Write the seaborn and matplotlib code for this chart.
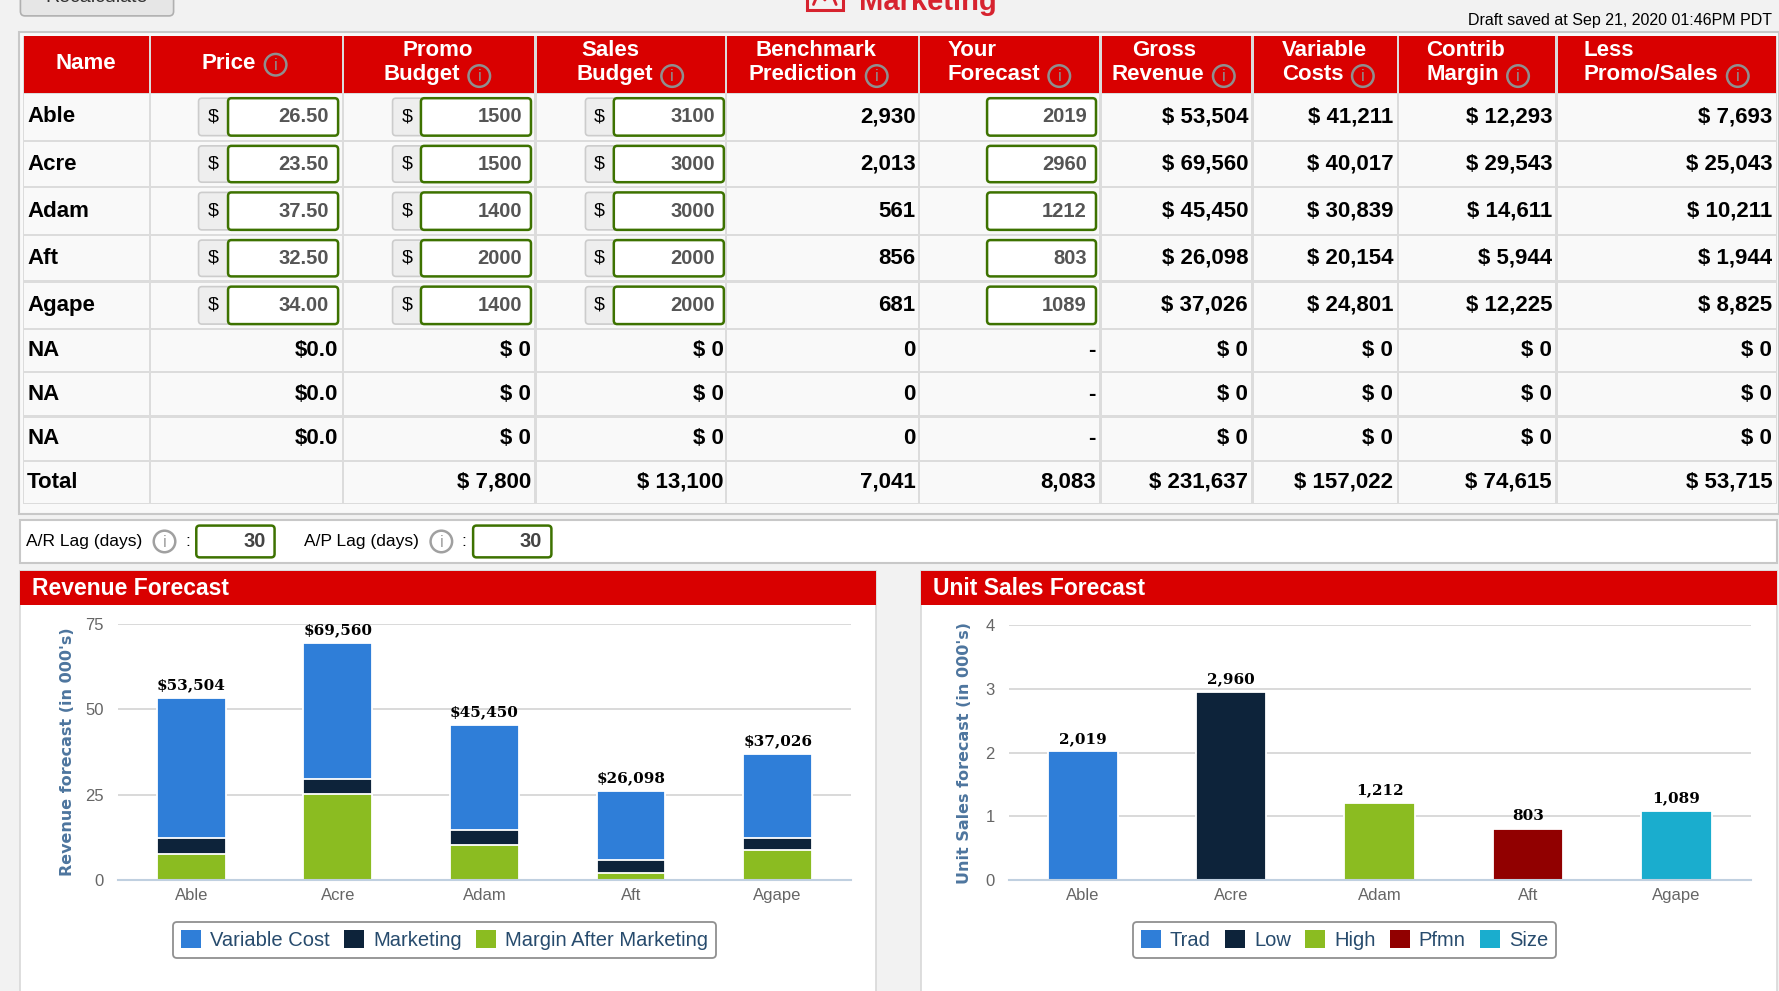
# Tratamiento de datos
import numpy as np
import pandas as pd

# Visualización
import seaborn as sns
import matplotlib.pyplot as plt
from matplotlib.patches import Rectangle, FancyBboxPatch, Circle, Patch

# ------------------------------DATOS------------------------------
names = ["Able", "Acre", "Adam", "Aft", "Agape"]
price = [26.50, 23.50, 37.50, 32.50, 34.00]
promo_budget = [1500, 1500, 1400, 2000, 1400]
sales_budget = [3100, 3000, 3000, 2000, 2000]
benchmark = [2930, 2013, 561, 856, 681]
forecast = [2019, 2960, 1212, 803, 1089]
gross_revenue = [53504, 69560, 45450, 26098, 37026]
variable_costs = [41211, 40017, 30839, 20154, 24801]
contrib_margin = [12293, 29543, 14611, 5944, 12225]
less_promo_sales = [7693, 25043, 10211, 1944, 8825]
n_empty_rows = 3
# promo, sales, benchmark, forecast, gross, variable, contrib, less promo
totals = [7800, 13100, 7041, 8083, 231637, 157022, 74615, 53715]
ar_lag = 30
ap_lag = 30

rev_series = ["Variable Cost", "Marketing", "Margin After Marketing"]
rev_colors = ["#2f7ed8", "#0d233a", "#8bbc21"]
segments = ["Trad", "Low", "High", "Pfmn", "Size"]
seg_colors = ["#2f7ed8", "#0d233a", "#8bbc21", "#910000", "#1aadce"]

# ------------------------------LIENZO------------------------------
W, H = 1568, 873  # coordenadas de pantalla, escaladas a 1779x991
RED = "#d90000"

sns.set_style("white")
plt.rcParams["font.family"] = ["Liberation Sans", "DejaVu Sans"]

fig = plt.figure(figsize=(17.79, 9.91), dpi=100)
fig.patch.set_facecolor("#f2f2f2")
ax0 = fig.add_axes([0, 0, 1, 1])
ax0.set_xlim(0, W)
ax0.set_ylim(H, 0)
ax0.axis("off")
renderer = fig.canvas.get_renderer()


def rect(x0, y0, x1, y1, fc, ec="none", lw=1.0, r=None, z=1):
    if r:
        p = FancyBboxPatch((x0, y0), x1 - x0, y1 - y0,
                           boxstyle=f"round,pad=0,rounding_size={r}",
                           fc=fc, ec=ec, lw=lw, zorder=z)
    else:
        p = Rectangle((x0, y0), x1 - x0, y1 - y0, fc=fc, ec=ec, lw=lw, zorder=z)
    ax0.add_patch(p)


def txt(x, y, s, ha="left", size=16, weight="bold", color="black", va="center", **kw):
    return ax0.text(x, y, s, ha=ha, va=va, fontsize=size, fontweight=weight,
                    color=color, zorder=5, **kw)


def info_icon(x, y, color="#8f8f8f"):
    ax0.add_patch(Circle((x, y), 9.5, fill=False, ec=color, lw=1.8, zorder=5))
    txt(x, y + 0.5, "i", ha="center", size=12, weight="normal", color=color)


def right_edge(t):
    bb = t.get_window_extent(renderer)
    return ax0.transData.inverted().transform((bb.x1, bb.y0))[0]


def input_box(x0, x1, y0, y1, value, addon=None):
    if addon is not None:
        rect(addon, y0, x0 + 4, y1, fc="#eeeeee", ec="#cccccc", lw=1.2, r=3, z=2)
        txt((addon + x0) / 2, (y0 + y1) / 2, "$", ha="center", size=14, weight="normal")
    rect(x0, y0, x1, y1, fc="white", ec="#3d7200", lw=1.8, r=3, z=3)
    txt(x1 - 8, (y0 + y1) / 2, value, ha="right", size=14.5, color="#555555")


# ------------------------------CABECERA DE PÁGINA------------------------------
rect(18, -20, 153, 14, fc="#e6e6e6", ec="#b0b0b0", lw=1.2, r=4)
txt(85, -2, "Recalculate", ha="center", size=14, weight="normal", color="#333333")
rect(711, -20, 743, 9, fc="none", ec="#d7232f", lw=2.2)
ax0.plot([717, 722, 727, 732, 737], [4, -8, 0, -8, 4], color="#d7232f", lw=2, zorder=5)
txt(757, 8.5, "Marketing", size=21, color="#d7232f", va="baseline")
txt(1562, 18, "Draft saved at Sep 21, 2020 01:46PM PDT", ha="right", size=11.5, weight="normal")

# ------------------------------TABLA------------------------------
col_edges = [20, 132, 302, 472, 640, 810, 970, 1104, 1232, 1372, 1566]
row_edges = [82, 124, 165, 207, 248, 290, 328, 367, 406, 444]

rect(17, 28, 1568, 453, fc="#f9f9f9", ec="#c8c8c8", lw=1.5)
rect(20, 32, 1566, 444, fc="#dcdcdc")
for i in range(len(col_edges) - 1):
    rect(col_edges[i] + 1, 32, col_edges[i + 1] - 1, 81.5, fc=RED)
    for j in range(len(row_edges) - 1):
        rect(col_edges[i] + 1, row_edges[j] + 1, col_edges[i + 1] - 1, row_edges[j + 1] - 1,
             fc="#f9f9f9")

# encabezados: (línea 1, x1, línea 2, x2)
headers = [("Price", 178, None, None), ("Promo", 355, "Budget", 338),
           ("Sales", 512, "Budget", 508), ("Benchmark", 666, "Prediction", 660),
           ("Your", 835, "Forecast", 835), ("Gross", 998, "Revenue", 980),
           ("Variable", 1130, "Costs", 1130), ("Contrib", 1257, "Margin", 1257),
           ("Less", 1396, "Promo/Sales", 1396)]
txt(76, 56, "Name", ha="center", color="white")
for l1, x1, l2, x2 in headers:
    if l2 is None:
        t = txt(x1, 56, l1, color="white")
        info_icon(right_edge(t) + 17, 57)
    else:
        txt(x1, 44.5, l1, color="white")
        t = txt(x2, 65.5, l2, color="white")
        info_icon(right_edge(t) + 17, 67)

# filas de productos
for j, name in enumerate(names):
    y0, y1 = row_edges[j], row_edges[j + 1]
    yc = (y0 + y1) / 2
    txt(24, yc, name)
    input_box(201, 298, y0 + 4.5, y1 - 4.5, f"{price[j]:.2f}", addon=175)
    input_box(371, 468, y0 + 4.5, y1 - 4.5, f"{promo_budget[j]}", addon=346)
    input_box(541, 638, y0 + 4.5, y1 - 4.5, f"{sales_budget[j]}", addon=516)
    txt(807, yc, f"{benchmark[j]:,}", ha="right")
    input_box(870, 966, y0 + 4.5, y1 - 4.5, f"{forecast[j]}")
    txt(1100, yc, f"$ {gross_revenue[j]:,}", ha="right")
    txt(1228, yc, f"$ {variable_costs[j]:,}", ha="right")
    txt(1368, yc, f"$ {contrib_margin[j]:,}", ha="right")
    txt(1562, yc, f"$ {less_promo_sales[j]:,}", ha="right")

# filas vacías
for k in range(n_empty_rows):
    j = len(names) + k
    yc = (row_edges[j] + row_edges[j + 1]) / 2
    txt(24, yc, "NA")
    txt(298, yc, "$0.0", ha="right")
    for xr in [468, 638]:
        txt(xr, yc, "$ 0", ha="right")
    txt(807, yc, "0", ha="right")
    txt(966, yc, "-", ha="right")
    for xr in [1100, 1228, 1368, 1562]:
        txt(xr, yc, "$ 0", ha="right")

# fila de totales
yc = (row_edges[-2] + row_edges[-1]) / 2
txt(24, yc, "Total")
tot_x = [468, 638, 807, 966, 1100, 1228, 1368, 1562]
tot_fmt = ["$ {:,}", "$ {:,}", "{:,}", "{:,}", "$ {:,}", "$ {:,}", "$ {:,}", "$ {:,}"]
for xr, f, v in zip(tot_x, tot_fmt, totals):
    txt(xr, yc, f.format(v), ha="right")

# ------------------------------LAG------------------------------
rect(18, 458, 1566, 496, fc="white", ec="#c8c8c8", lw=1.5)
for lbl, x_lbl, x_ic, x_col, (bx0, bx1), val in [("A/R Lag (days)", 23, 145, 163, (173, 242), ar_lag),
                                                ("A/P Lag (days)", 268, 389, 407, (417, 486), ap_lag)]:
    txt(x_lbl, 477, lbl, size=12.5, weight="normal")
    info_icon(x_ic, 477, color="#a0a0a0")
    txt(x_col, 477, ":", size=12.5, weight="normal")
    rect(bx0, 463, bx1, 491, fc="white", ec="#3d7200", lw=1.8, r=3, z=3)
    txt(bx1 - 8, 477, str(val), ha="right", size=14.5, color="#444444")

# ------------------------------PANELES------------------------------
for px0, px1, title in [(18, 772, "Revenue Forecast"), (812, 1566, "Unit Sales Forecast")]:
    rect(px0, 503, px1, 880, fc="white", ec="#d8d8d8", lw=1.2)
    rect(px0, 503, px1, 533, fc=RED)
    txt(px0 + 10, 518.5, title, size=16.5, color="white")


def style_axis(ax, yticks, ylabel, label_x):
    ax.set_facecolor("none")
    ax.set_xlim(-0.5, 4.5)
    ax.set_ylim(yticks[0], yticks[-1])
    ax.set_yticks(yticks)
    ax.set_axisbelow(True)
    ax.yaxis.grid(True, color="#d3d3d3", lw=1.2)
    ax.xaxis.grid(False)
    for s in ["top", "left", "right"]:
        ax.spines[s].set_visible(False)
    ax.spines["bottom"].set_color("#c0d0e0")
    ax.spines["bottom"].set_linewidth(1.5)
    ax.set_xticks(np.arange(-0.5, 5, 1), minor=True)
    ax.tick_params(axis="x", which="minor", length=8, width=1.2, color="#c0d0e0", direction="out")
    ax.tick_params(axis="x", which="major", length=0, pad=6, labelsize=12, labelcolor="#666666")
    ax.tick_params(axis="y", length=0, pad=10, labelsize=12, labelcolor="#666666")
    ax.set_xlabel("")
    ax.set_ylabel(ylabel, fontsize=11.5, fontweight="bold", color="#4d759e", family="DejaVu Sans")
    ax.yaxis.set_label_coords(label_x, 0.5)


# ---- Revenue Forecast (barras apiladas) ----
rev = pd.DataFrame({
    "Name": names,
    "Variable Cost": np.array(variable_costs) / 1000,
    "Marketing": (np.array(promo_budget) + np.array(sales_budget)) / 1000,
    "Margin After Marketing": np.array(less_promo_sales) / 1000,
})
rev["green"] = rev["Margin After Marketing"]
rev["navy"] = rev["green"] + rev["Marketing"]
rev["blue"] = rev["navy"] + rev["Variable Cost"]

ax1 = fig.add_axes([104 / W, 1 - 775 / H, (750 - 104) / W, (775 - 550) / H])
for col, c in zip(["blue", "navy", "green"], rev_colors):
    sns.barplot(data=rev, x="Name", y=col, color=c, saturation=1, width=0.47,
                edgecolor="white", linewidth=1.3, ax=ax1, zorder=2)
for i, (top, g) in enumerate(zip(rev["blue"], gross_revenue)):
    ax1.annotate(f"${g:,}", (i, top), xytext=(0, 4), textcoords="offset points",
                 ha="center", va="bottom", fontsize=11, fontweight="bold",
                 family="DejaVu Serif", color="black")
style_axis(ax1, [0, 25, 50, 75], "Revenue forecast (in 000's)", -0.058)

# ---- Unit Sales Forecast ----
units = pd.DataFrame({"Name": names, "Units": np.array(forecast) / 1000})
ax2 = fig.add_axes([889 / W, 1 - 775 / H, (1543 - 889) / W, (775 - 551) / H])
sns.barplot(data=units, x="Name", y="Units", hue="Name", palette=seg_colors, legend=False,
            saturation=1, width=0.475, edgecolor="white", linewidth=1.3, ax=ax2, zorder=2)
for i, v in enumerate(forecast):
    ax2.annotate(f"{v:,}", (i, v / 1000), xytext=(0, 4), textcoords="offset points",
                 ha="center", va="bottom", fontsize=11, fontweight="bold",
                 family="DejaVu Serif", color="black")
style_axis(ax2, [0, 1, 2, 3, 4], "Unit Sales forecast (in 000's)", -0.049)

# ---- Leyendas ----
for labels, colors, xc, ncol in [(rev_series, rev_colors, 392, 3), (segments, seg_colors, 1185, 5)]:
    handles = [Patch(facecolor=c, edgecolor="none") for c in colors]
    leg = fig.legend(handles, labels, loc="center", bbox_to_anchor=(xc / W, 1 - 828 / H),
                     ncol=ncol, frameon=True, fancybox=True, framealpha=1, facecolor="white",
                     edgecolor="#909090", fontsize=14.5, labelcolor="#274b6d",
                     handlelength=1.0, handleheight=1.0, handletextpad=0.45,
                     columnspacing=0.7, borderpad=0.4)
    leg.get_frame().set_linewidth(1.3)

fig.savefig("out.png", dpi=100, facecolor=fig.get_facecolor())
